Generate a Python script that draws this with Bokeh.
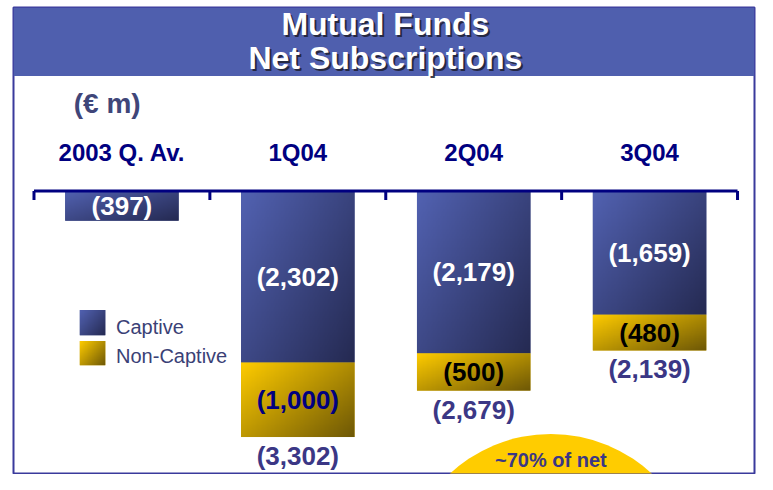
import numpy as np
from bokeh.plotting import figure
from bokeh.models import Range1d, ColumnDataSource
from bokeh.core.properties import value
from bokeh.embed import file_html
from bokeh.resources import INLINE

# ---------------- data ----------------
categories = ["2003 Q. Av.", "1Q04", "2Q04", "3Q04"]
captive = [-397, -2302, -2179, -1659]
non_captive = [0, -1000, -500, -480]
series_names = ["Captive", "Non-Captive"]
title_lines = ["Mutual Funds", "Net Subscriptions"]
unit_label = "(\u20ac m)"
note_label = "~70% of net"

def fmt(v):
    return "(" + format(abs(v), ",") + ")"

totals = [c + n for c, n in zip(captive, non_captive)]

# ---------------- geometry helpers (reference px -> data) ----------------
W, H = 757, 474
S_X, S_Y = W / 773.0, H / 490.0
ML = int(round(13 * S_X))
MT = int(round(7 * S_Y))
MR = W - int(round(770 * S_X))
MB = H - int(round(489 * S_Y))
FW, FH = W - ML - MR, H - MT - MB

X_UNIT = 179.6 * S_X                 # px per category
x_start = -(124 * S_X - ML) / X_UNIT
x_end = x_start + FW / X_UNIT
Y_PX = 1.0 / (0.077 * S_Y)           # data units per px
y_end = (197 * S_Y - MT) * Y_PX
y_start = y_end - FH * Y_PX

def dx(rx):
    return x_start + (rx * S_X - ML) / X_UNIT

def dy(ry):
    return y_end - (ry * S_Y - MT) * Y_PX

FONT = value("Liberation Sans")
BLUE0, BLUE1 = (0x52, 0x62, 0xB2), (0x25, 0x2A, 0x52)
YEL0, YEL1 = (0xFF, 0xCC, 0x00), (0x6E, 0x58, 0x06)
BLUE_MID = "#3B4784"
YEL_MID = "#C9A000"


def gradient(c0, c1, nw=90, nh=90):
    img = np.empty((nh, nw), dtype=np.uint32)
    view = img.view(dtype=np.uint8).reshape((nh, nw, 4))
    u = np.linspace(0, 1, nw)[None, :]
    v = 1 - np.linspace(0, 1, nh)[:, None]   # row 0 is bottom
    t = np.clip(0.55 * u + 0.45 * v, 0, 1)
    for k in range(3):
        view[:, :, k] = (c0[k] + (c1[k] - c0[k]) * t).astype(np.uint8)
    view[:, :, 3] = 255
    return img


p = figure(width=W, height=H, output_backend="svg", toolbar_location=None,
           x_range=Range1d(x_start, x_end), y_range=Range1d(y_start, y_end),
           min_border_left=ML, min_border_right=MR, min_border_top=MT,
           min_border_bottom=MB)
p.xaxis.visible = False
p.yaxis.visible = False
p.grid.visible = False
p.outline_line_color = "#3A3A9C"
p.outline_line_width = 2
p.background_fill_color = "white"
p.border_fill_color = "white"

xs = list(range(len(categories)))
BW = 0.645

# ---------------- bars ----------------
src = ColumnDataSource(dict(x=xs, cap=captive, zero=[0] * len(xs),
                            tot=totals, names=categories))
p.vbar(x="x", top="zero", bottom="cap", width=BW, source=src,
       fill_color=BLUE_MID, line_color=None)
nc_idx = [i for i, n in enumerate(non_captive) if n != 0]
p.vbar(x=[xs[i] for i in nc_idx], top=[captive[i] for i in nc_idx],
       bottom=[totals[i] for i in nc_idx], width=BW,
       fill_color=YEL_MID, line_color=None)

# gradient overlays
bimg = gradient(BLUE0, BLUE1)
yimg = gradient(YEL0, YEL1)
p.image_rgba(image=[bimg] * len(xs), x=[x - BW / 2 for x in xs], y=captive,
             dw=[BW] * len(xs), dh=[-c for c in captive])
p.image_rgba(image=[yimg] * len(nc_idx), x=[xs[i] - BW / 2 for i in nc_idx],
             y=[totals[i] for i in nc_idx], dw=[BW] * len(nc_idx),
             dh=[-non_captive[i] for i in nc_idx])

# ---------------- axis line + ticks ----------------
bounds = [x - 0.5 for x in xs] + [xs[-1] + 0.5]
p.segment(x0=[bounds[0]], y0=[0], x1=[bounds[-1]], y1=[0],
          line_color="#000080", line_width=3)
p.ray(x=bounds, y=[0] * len(bounds), length=9, length_units="screen",
      angle=-np.pi / 2, line_color="#000080", line_width=3)

# ---------------- value labels ----------------
LBL = "26px"
p.text(x=xs, y=[c / 2 for c in captive], text=[fmt(c) for c in captive],
       text_font=FONT, text_font_style="bold", text_font_size=LBL,
       text_color="white", text_align="center", text_baseline="middle")
nc_colors = ["#000080" if i == 1 else "black" for i in nc_idx]
p.text(x=[xs[i] for i in nc_idx],
       y=[captive[i] + non_captive[i] / 2 for i in nc_idx],
       text=[fmt(non_captive[i]) for i in nc_idx], text_color=nc_colors,
       text_font=FONT, text_font_style="bold", text_font_size=LBL,
       text_align="center", text_baseline="middle")
p.text(x=[xs[i] for i in nc_idx], y=[totals[i] for i in nc_idx],
       text=[fmt(totals[i]) for i in nc_idx], y_offset=19,
       text_font=FONT, text_font_style="bold", text_font_size=LBL,
       text_color="#3B3785", text_align="center", text_baseline="middle")

# ---------------- category labels ----------------
p.text(x=xs, y=[dy(157.5)] * len(xs), text=categories,
       text_font=FONT, text_font_style="bold", text_font_size="24px",
       text_color="#000080", text_align="center", text_baseline="middle")

# ---------------- unit label ----------------
p.text(x=[dx(109)], y=[dy(106)], text=[unit_label],
       text_font=FONT, text_font_style="bold", text_font_size="28px",
       text_color="#3F4679", text_align="center", text_baseline="middle")

# ---------------- title band ----------------
p.quad(left=[x_start], right=[x_end], top=[y_end], bottom=[dy(78)],
       fill_color="#4F5FAE", line_color=None)
title_y = [dy(24.5), dy(59)]
p.text(x=[dx(393)] * 2, y=title_y, text=title_lines, x_offset=2, y_offset=2,
       text_font=FONT, text_font_style="bold", text_font_size="32px",
       text_color="#1E1E2E", text_alpha=0.85,
       text_align="center", text_baseline="middle")
p.text(x=[dx(393)] * 2, y=title_y, text=title_lines,
       text_font=FONT, text_font_style="bold", text_font_size="32px",
       text_color="white", text_align="center", text_baseline="middle")

# ---------------- legend ----------------
lx0, lx1 = dx(81), dx(107)
sw_tops = [dy(320), dy(352)]
sw_bots = [dy(346), dy(377)]
sw_cols = [BLUE_MID, YEL_MID]
p.quad(left=[lx0] * 2, right=[lx1] * 2, top=sw_tops, bottom=sw_bots,
       fill_color=sw_cols, line_color=None)
p.image_rgba(image=[bimg, yimg], x=[lx0] * 2, y=sw_bots, dw=[lx1 - lx0] * 2,
             dh=[t - b for t, b in zip(sw_tops, sw_bots)])
p.text(x=[dx(118)] * 2, y=[dy(338), dy(367)], text=series_names,
       text_font=FONT, text_font_size="20px", text_color="#3A4176",
       text_align="left", text_baseline="middle")

# ---------------- note bubble ----------------
p.circle(x=[dx(562)], y=[dy(601)], radius=148, radius_units="screen",
         fill_color="#FFCC00", line_color=None)
p.text(x=[dx(562)], y=[dy(475)], text=[note_label],
       text_font=FONT, text_font_style="bold", text_font_size="20px",
       text_color="#3B3785", text_align="center", text_baseline="middle")

open("out.html", "w").write(file_html(p, INLINE))
